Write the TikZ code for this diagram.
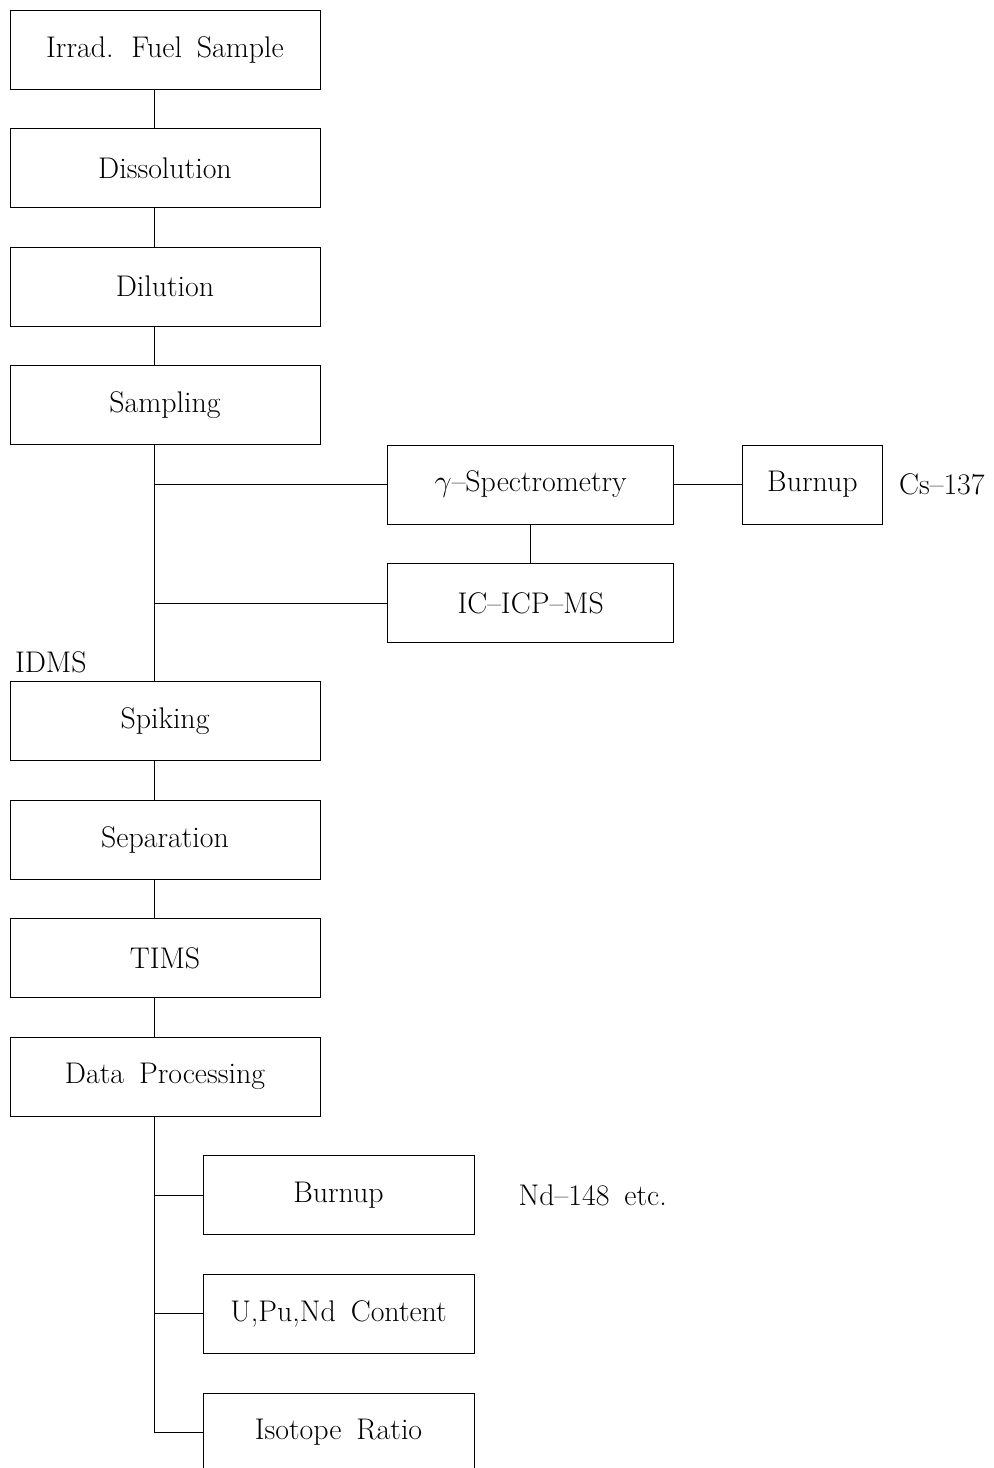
\documentclass[tikz,border=0pt]{standalone}
\usepackage{fontspec}
\usetikzlibrary{positioning}
\newcommand\flowfont{\fontsize{17}{20}\selectfont\spaceskip=0.5em\relax}
\tikzset{
every node/.style={font=\flowfont},
stage/.style={draw, minimum width=6.2cm, minimum height=1.58cm, inner sep=0pt},
side/.style={draw, minimum width=5.72cm, minimum height=1.58cm, inner sep=0pt},
result/.style={draw, minimum width=5.42cm, minimum height=1.58cm, inner sep=0pt},
note/.style={inner sep=0pt},
node distance=0.775cm,
line width=0.7pt,
draw=black!85,
}

\begin{document}
\begin{tikzpicture}
        \useasboundingbox (0,0) rectangle (19.86,-29.36);
        \clip (0,0) rectangle (19.86,-29.36);

        % main chain
        \node[stage] (irrad) at (3.3,-0.99) {Irrad. Fuel Sample};
        \node[stage,below=of irrad] (diss) {Dissolution};
        \node[stage,below=of diss] (dil) {Dilution};
        \node[stage,below=of dil] (samp) {Sampling};
        \node[stage,below=4.73cm of samp] (spike) {Spiking};
        \node[stage,below=of spike] (sep) {Separation};
        \node[stage,below=of sep] (tims) {TIMS};
        \node[stage,below=of tims] (data) {Data Processing};
        \node[note,anchor=south west] (idms) at ([xshift=0.1cm,yshift=0.16cm]spike.north west) {IDMS};

        % side branch
        \node[side,anchor=north west] (gamma) at ([xshift=1.34cm]samp.south east) {$\gamma$--Spectrometry};
        \node[side,below=0.78cm of gamma] (ic) {IC--ICP--MS};
        \node[draw,minimum width=2.8cm,minimum height=1.58cm,inner sep=0pt,right=1.36cm of gamma] (burn1) {Burnup};
        \node[note,right=0.32cm of burn1] (cs) {Cs--137};

        % results
        \node[result,anchor=north west] (burn2) at ([xshift=3.86cm,yshift=-0.78cm]data.south west) {Burnup};
        \node[result,below=0.78cm of burn2] (upu) {U,Pu,Nd Content};
        \node[result,below=0.78cm of upu] (iso) {Isotope Ratio};
        \node[note,right=0.88cm of burn2] (nd) {Nd--148 etc.};

        \foreach \a/\b in {irrad/diss, diss/dil, dil/samp, samp/spike, spike/sep, sep/tims, tims/data}
            \draw ([xshift=-0.22cm]\a.south) -- ([xshift=-0.22cm]\b.north);

        \coordinate (trunk) at ([xshift=-0.22cm]samp.south);
        \draw (gamma) -- (gamma -| trunk);
        \draw (ic) -- (ic -| trunk);
        \draw (gamma) -- (burn1);
        \draw (gamma) -- (ic);

        \coordinate (dtrunk) at ([xshift=-0.22cm]data.south);
        \draw (dtrunk) |- (iso.west);
        \draw (burn2) -- (burn2 -| dtrunk);
        \draw (upu) -- (upu -| dtrunk);
    \end{tikzpicture}
\end{document}
